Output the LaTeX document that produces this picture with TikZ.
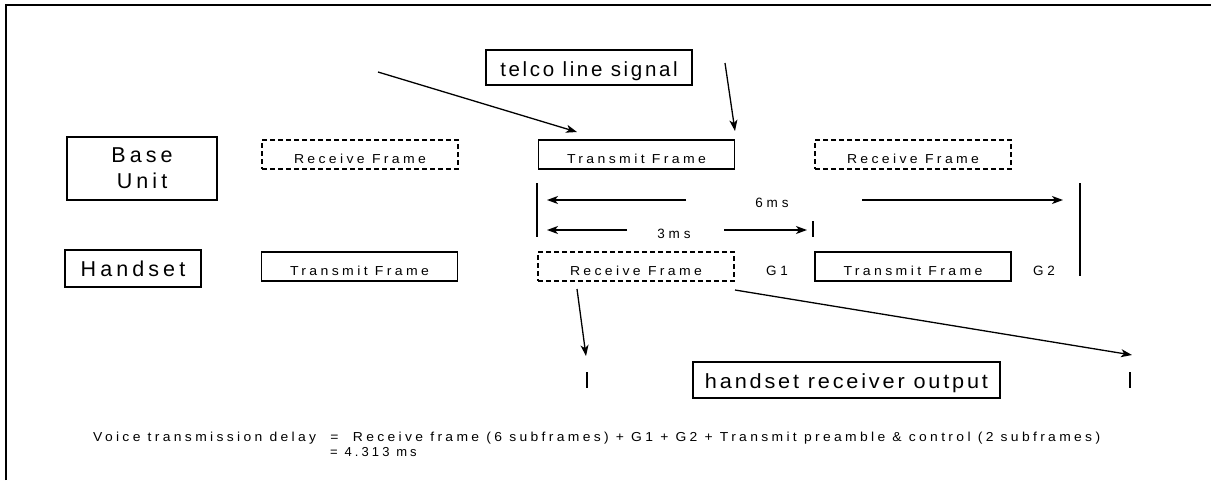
\documentclass[tikz,border=0pt]{standalone}
\usepackage{fontspec}
\usepackage{graphicx}
\setmainfont{Liberation Sans}
\usetikzlibrary{arrows.meta}

% set a line of text to a given overall width, keeping its height
\newcommand{\spanto}[2]{\resizebox{#1}{\height}{#2}}

\tikzset{
  every picture/.style={x=1pt, y=-1pt},
  unitbox/.style={draw, line width=1.1pt, inner sep=0pt, align=center,
    font=\fontsize{21.5}{26}\selectfont\addfontfeature{LetterSpace=19}},
  framebox/.style={draw, line width=1.2pt, inner sep=0pt,
    minimum width=196pt, minimum height=29pt, text height=23.5pt, text depth=5.5pt,
    font=\fontsize{13}{15}\selectfont\addfontfeature{LetterSpace=24}},
  rxbox/.style={framebox, line width=1.6pt, dash pattern=on 5pt off 3pt},
  signalbox/.style={draw, line width=1.2pt, inner sep=0pt,
    font=\fontsize{20.5}{24}\selectfont\addfontfeature{LetterSpace=13}},
  smalltext/.style={inner sep=0pt, font=\fontsize{13.5}{16}\selectfont\addfontfeature{LetterSpace=28}},
  notetext/.style={inner sep=0pt, font=\fontsize{13}{15}\selectfont\addfontfeature{LetterSpace=24}},
  conn/.style={line width=1.3pt, -{Stealth[length=11pt,width=8pt,inset=3pt]}},
  rule/.style={line width=1.3pt},
}

\begin{document}
\begin{tikzpicture}
\useasboundingbox (0,0) rectangle (1211,480);

% outer frame edges
\draw[line width=2pt] (6,480) -- (6,5) -- (1211,5);

% row labels
\node[unitbox, minimum width=150pt, minimum height=63pt] (base) at (142,168.5) {Base\\Unit};
\node[unitbox, minimum width=136pt, minimum height=37pt] (hand) at (133,268.5) {Handset};

% base unit frames
\node[rxbox]    (brx1) at (360,154.5) {\spanto{132pt}{Receive Frame}};
\node[framebox] (btx)  at (636.5,154.5) {\spanto{139pt}{Transmit Frame}};
\node[rxbox]    (brx2) at (913,154.5) {\spanto{132pt}{Receive Frame}};

% handset frames
\node[framebox] (htx1) at (359.5,266.5) {\spanto{139pt}{Transmit Frame}};
\node[rxbox]    (hrx)  at (636,266.5) {\spanto{132pt}{Receive Frame}};
\node[framebox] (htx2) at (913,266.5) {\spanto{139pt}{Transmit Frame}};
\node[smalltext] (g1) at (777,271) {G1};
\node[smalltext] (g2) at (1044,271) {G2};

% telco signal
\node[signalbox, minimum width=206pt, minimum height=35pt, text height=26pt, text depth=9pt] (telco) at (589,67.5) {telco line signal};
\coordinate (telA) at (378,72);
\coordinate (telB) at (725,63);
\draw[conn] (telA) -- (577,132);
\draw[conn] (telB) -- (735,131);

% timing marks
\coordinate (m0t) at (537,183);
\coordinate (m0b) at (537,237);
\coordinate (m1t) at (813,221);
\coordinate (m1b) at (813,237);
\coordinate (m2t) at (1080,183);
\coordinate (m2b) at (1080,276);
\draw[rule] (m0t) -- (m0b);
\draw[rule] (m1t) -- (m1b);
\draw[rule] (m2t) -- (m2b);

\node[smalltext] (six) at (772,203) {6ms};
\node[smalltext] (three) at (674,234) {3ms};
\draw[conn] (686,200) -- (547,200);
\draw[conn] (862,200) -- (1063,200);
\draw[conn] (627,230) -- (547,230);
\draw[conn] (724,230) -- (807,230);

% small mark on handset transmit frame
\draw[line width=1pt] (831,251.5) -- (835,251.5) -- (835,253);

% handset receiver output
\node[signalbox, minimum width=307pt, minimum height=36pt, text height=26pt, text depth=10pt] (hout) at (846.5,380) {\spanto{283pt}{handset receiver output}};
\coordinate (o1t) at (587,372);
\coordinate (o1b) at (587,388);
\coordinate (o2t) at (1130,372);
\coordinate (o2b) at (1130,388);
\draw[conn] (577,289) -- (586,356);
\draw[conn] (735,290) -- (1132,355);
\draw[rule] (o1t) -- (o1b);
\draw[rule] (o2t) -- (o2b);

% delay formula
\node[notetext, anchor=base west] (eq1) at (93,441) {\spanto{1007pt}{Voice transmission delay \ = \ Receive frame (6 subframes) + G1 + G2 + Transmit preamble \& control (2 subframes)}};
\node[notetext, anchor=base west] (eq2) at (330,456) {= 4.313 ms};
\end{tikzpicture}
\end{document}
